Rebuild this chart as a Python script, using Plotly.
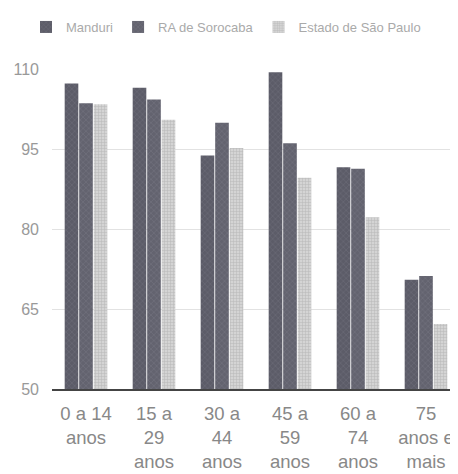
import plotly.graph_objects as go

categories = ["0 a 14<br>anos", "15 a<br>29<br>anos", "30 a<br>44<br>anos",
              "45 a<br>59<br>anos", "60 a<br>74<br>anos", "75<br>anos e<br>mais"]
series_names = ["Manduri", "RA de Sorocaba", "Estado de São Paulo"]
manduri = [107.3, 106.5, 93.8, 109.4, 91.6, 70.5]
ra_sorocaba = [103.6, 104.3, 99.9, 96.1, 91.3, 71.2]
estado_sp = [103.4, 100.5, 95.2, 89.6, 82.2, 62.2]
y_ticks = [50, 65, 80, 95, 110]

font_fam = "Liberation Sans Narrow, Arial Narrow, Liberation Sans, Arial, sans-serif"

fig = go.Figure()
styles = [
    dict(color="#5c5c68", pattern=dict(shape="x", fgcolor="#7a7a84", size=4, solidity=0.3)),
    dict(color="#63636f", pattern=dict(shape="x", fgcolor="#80808a", size=4, solidity=0.3)),
    dict(color="#d4d4d4", pattern=dict(shape="+", fgcolor="#9a9a9a", size=3, solidity=0.3)),
]
for name, vals, st in zip(series_names, [manduri, ra_sorocaba, estado_sp], styles):
    fig.add_trace(go.Bar(
        x=categories, y=vals, name=name,
        marker=dict(color=st["color"], pattern=st["pattern"], line=dict(width=0)),
    ))

fig.update_layout(
    width=458, height=474,
    margin=dict(l=44, r=6, t=61, b=93, autoexpand=False),
    paper_bgcolor="white", plot_bgcolor="white",
    barmode="group", bargap=0.36, bargroupgap=0.06,
    font=dict(family=font_fam, color="#888888"),
    legend=dict(orientation="h", xref="container", yref="container",
                x=18 / 458, xanchor="left", y=1 - 19 / 474, yanchor="middle",
                font=dict(size=13, color="#aaaaaa"), itemwidth=30,
                traceorder="normal"),
    showlegend=True,
)
fig.update_xaxes(
    showline=True, linecolor="#444444", linewidth=1.5,
    tickfont=dict(size=18.5, color="#888888"), ticks="", showgrid=False,
    ticklabelstandoff=7,
)
fig.update_yaxes(
    range=[50, 110], tickvals=y_ticks, showgrid=True, gridcolor="#e2e2e2",
    tickfont=dict(size=16, color="#999999"), zeroline=False, ticks="",
    ticklabelstandoff=12,
)
fig.write_html("out.html")
